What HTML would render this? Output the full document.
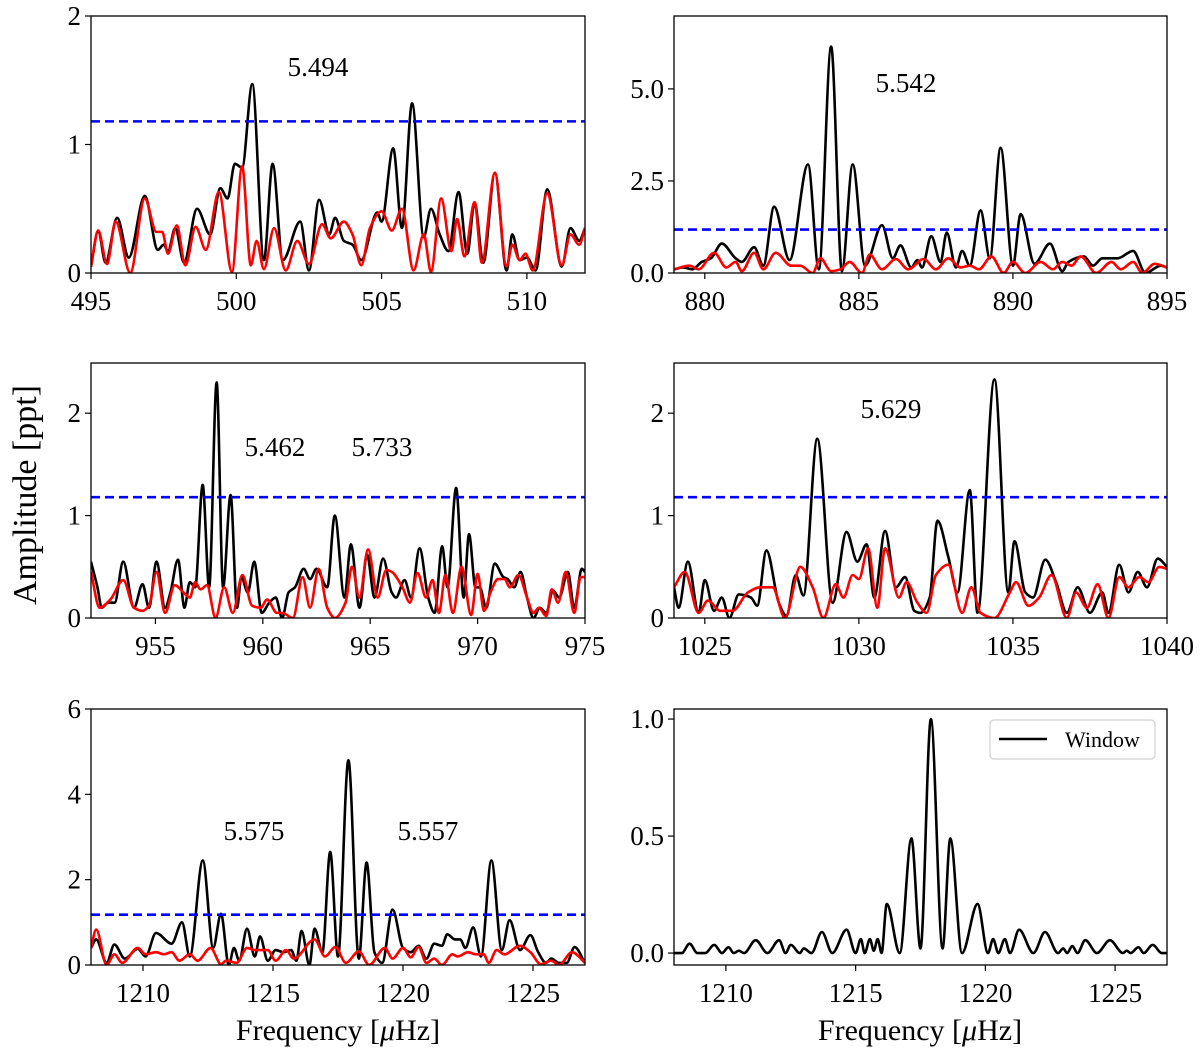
<!DOCTYPE html>
<html><head><meta charset="utf-8">
<style>
html,body{margin:0;padding:0;background:#fff;}
svg{display:block;}
text{font-family:"Liberation Serif","DejaVu Serif",serif;fill:#000;}
</style></head>
<body>
<svg id="fig" width="1200" height="1056" viewBox="0 0 1200 1056" xmlns="http://www.w3.org/2000/svg">
<text x="0" y="0" font-size="34" text-anchor="middle" transform="translate(36,495) rotate(-90)">Amplitude [ppt]</text>
<text x="338" y="1040" font-size="30" text-anchor="middle">Frequency [<tspan font-style="italic">μ</tspan>Hz]</text>
<text x="920" y="1040" font-size="30" text-anchor="middle">Frequency [<tspan font-style="italic">μ</tspan>Hz]</text>
</svg>
<script>
// ---------- data ----------
const threshold = 1.18;
const p1XTicks = [495,500,505,510];
const p1YTicks = [0,1,2];
const p1Black = [[495,0.05],[495.25,0.33],[495.5,0.08],[495.9,0.43],[496.3,0.12],[496.85,0.6],[497.3,0.18],[497.5,0.22],[497.65,0.17],[497.9,0.35],[498.2,0.08],[498.65,0.5],[499.1,0.3],[499.45,0.66],[499.7,0.58],[499.95,0.85],[500.2,0.82],[500.55,1.47],[500.95,0.1],[501.25,0.85],[501.6,0.1],[502.2,0.4],[502.5,0.02],[502.85,0.57],[503.2,0.3],[503.4,0.43],[503.7,0.25],[504.0,0.22],[504.3,0.1],[504.85,0.47],[505.0,0.4],[505.4,0.97],[505.7,0.35],[506.05,1.32],[506.45,0.28],[506.7,0.5],[507.0,0.3],[507.3,0.17],[507.65,0.63],[507.95,0.15],[508.2,0.55],[508.5,0.08],[508.9,0.78],[509.3,0.02],[509.5,0.3],[509.75,0.1],[510.0,0.12],[510.3,0.02],[510.7,0.65],[511.2,0.05],[511.5,0.35],[511.8,0.25],[512,0.35]];
const p1Red = [[495,0.05],[495.25,0.33],[495.55,0.07],[495.85,0.4],[496.35,0.0],[496.85,0.58],[497.25,0.32],[497.45,0.32],[497.65,0.15],[497.95,0.37],[498.25,0.06],[498.6,0.36],[498.95,0.18],[499.4,0.63],[499.85,0.01],[500.2,0.83],[500.5,0.06],[500.7,0.25],[500.95,0.03],[501.3,0.35],[501.7,0.02],[502.1,0.25],[502.5,0.07],[502.95,0.38],[503.25,0.27],[503.7,0.4],[504.0,0.3],[504.3,0.06],[504.6,0.35],[505.0,0.48],[505.35,0.33],[505.7,0.5],[506.1,0.02],[506.45,0.3],[506.7,0.01],[507.05,0.58],[507.4,0.17],[507.6,0.42],[507.85,0.13],[508.2,0.55],[508.45,0.08],[508.9,0.78],[509.3,0.05],[509.5,0.22],[509.75,0.1],[509.95,0.15],[510.2,0.02],[510.7,0.62],[511.2,0.06],[511.5,0.3],[511.8,0.22],[512,0.35]];

const p2XTicks = [880,885,890,895];
const p2YTicks = [0,2.5,5];
const p2YLabels = ["0.0","2.5","5.0"];
const p2Black = [[879,0.1],[879.3,0.15],[879.6,0.1],[879.9,0.3],[880.2,0.4],[880.55,0.8],[881.0,0.4],[881.2,0.3],[881.6,0.7],[881.9,0.2],[882.25,1.8],[882.75,0.35],[883.35,2.95],[883.7,0.1],[884.1,6.15],[884.45,0.05],[884.8,2.95],[885.2,0.2],[885.75,1.3],[886.1,0.4],[886.35,0.75],[886.7,0.15],[886.9,0.35],[887.05,0.15],[887.35,1.0],[887.65,0.3],[887.85,1.1],[888.15,0.15],[888.35,0.6],[888.6,0.2],[888.95,1.7],[889.25,0.4],[889.6,3.4],[890.0,0.2],[890.25,1.6],[890.7,0.25],[891.2,0.8],[891.6,0.05],[891.8,0.3],[892.3,0.45],[892.6,0.2],[892.9,0.4],[893.4,0.4],[893.9,0.6],[894.3,0.0],[894.8,0.2],[895,0.15]];
const p2Red = [[879,0.1],[879.5,0.2],[879.8,0.1],[880.3,0.55],[880.7,0.15],[881.0,0.3],[881.2,0.05],[881.6,0.55],[881.9,0.1],[882.3,0.55],[882.8,0.2],[883.1,0.2],[883.5,0.0],[883.75,0.4],[884.1,0.05],[884.4,0.1],[884.7,0.3],[885.1,0.0],[885.35,0.5],[885.75,0.1],[886.2,0.38],[886.6,0.1],[887.1,0.38],[887.5,0.1],[887.9,0.4],[888.3,0.15],[888.6,0.2],[888.9,0.1],[889.3,0.45],[889.7,0.0],[890.0,0.3],[890.4,0.0],[890.9,0.3],[891.3,0.1],[891.6,0.3],[891.9,0.2],[892.2,0.45],[892.7,0.0],[893.2,0.3],[893.5,0.1],[893.9,0.3],[894.2,0.0],[894.6,0.25],[895,0.15]];

const p3XTicks = [955,960,965,970,975];
const p3YTicks = [0,1,2];
const p3Black = [[952,0.55],[952.3,0.3],[952.5,0.1],[952.8,0.15],[953.1,0.15],[953.5,0.55],[954.0,0.1],[954.4,0.33],[954.7,0.1],[955.05,0.55],[955.45,0.1],[955.7,0.25],[956.05,0.57],[956.35,0.1],[956.6,0.35],[956.85,0.3],[957.2,1.3],[957.5,0.3],[957.85,2.3],[958.15,0.3],[958.5,1.2],[958.8,0.1],[959.0,0.4],[959.3,0.25],[959.6,0.55],[959.95,0.05],[960.3,0.15],[960.6,0.2],[960.9,0.0],[961.2,0.25],[961.5,0.3],[961.9,0.48],[962.2,0.38],[962.5,0.48],[963.0,0.3],[963.35,1.0],[963.8,0.2],[964.1,0.72],[964.5,0.1],[964.85,0.62],[965.2,0.2],[965.6,0.58],[966.0,0.25],[966.2,0.2],[966.6,0.37],[966.9,0.2],[967.3,0.68],[967.7,0.2],[968.0,0.05],[968.35,0.7],[968.6,0.3],[969.0,1.27],[969.35,0.2],[969.6,0.82],[969.9,0.3],[970.1,0.3],[970.4,0.1],[970.8,0.53],[971.2,0.4],[971.4,0.38],[971.7,0.3],[972.0,0.45],[972.3,0.2],[972.6,0.0],[972.9,0.1],[973.2,0.05],[973.5,0.27],[973.8,0.2],[974.2,0.45],[974.5,0.1],[974.85,0.48],[975,0.45]];
const p3Red = [[952,0.45],[952.4,0.1],[952.9,0.18],[953.5,0.37],[954.0,0.1],[954.4,0.07],[954.7,0.12],[955.05,0.45],[955.45,0.05],[955.9,0.32],[956.3,0.25],[956.6,0.2],[956.85,0.35],[957.1,0.28],[957.4,0.32],[957.8,0.0],[958.2,0.3],[958.6,0.05],[959.05,0.42],[959.5,0.12],[959.9,0.1],[960.2,0.18],[960.65,0.05],[960.9,0.05],[961.4,0.0],[961.85,0.4],[962.2,0.1],[962.6,0.48],[963.0,0.1],[963.35,0.0],[963.85,0.15],[964.15,0.5],[964.5,0.2],[964.9,0.67],[965.35,0.2],[965.75,0.47],[966.0,0.45],[966.5,0.3],[966.85,0.15],[967.2,0.44],[967.6,0.2],[967.9,0.37],[968.2,0.05],[968.5,0.42],[968.85,0.05],[969.25,0.5],[969.7,0.03],[970.0,0.43],[970.3,0.07],[970.6,0.25],[970.95,0.38],[971.25,0.38],[971.5,0.3],[971.9,0.42],[972.3,0.2],[972.6,0.05],[972.85,0.1],[973.2,0.02],[973.45,0.28],[973.75,0.15],[974.1,0.45],[974.5,0.05],[974.8,0.4],[975,0.4]];

const p4XTicks = [1025,1030,1035,1040];
const p4YTicks = [0,1,2];
const p4Black = [[1024.0,0.3],[1024.15,0.1],[1024.45,0.55],[1024.8,0.05],[1025.0,0.37],[1025.3,0.07],[1025.55,0.2],[1025.8,0.0],[1026.1,0.23],[1026.5,0.2],[1026.7,0.12],[1027.0,0.66],[1027.4,0.15],[1027.65,0.02],[1027.95,0.42],[1028.2,0.22],[1028.65,1.75],[1029.15,0.15],[1029.6,0.84],[1029.95,0.55],[1030.25,0.72],[1030.5,0.2],[1030.85,0.85],[1031.2,0.3],[1031.5,0.4],[1031.8,0.07],[1032.0,0.05],[1032.3,0.2],[1032.55,0.95],[1032.9,0.6],[1033.2,0.25],[1033.6,1.25],[1033.85,0.05],[1034.4,2.33],[1034.85,0.25],[1035.05,0.75],[1035.4,0.25],[1035.65,0.2],[1036.05,0.57],[1036.4,0.35],[1036.75,0.05],[1037.1,0.3],[1037.5,0.05],[1037.9,0.25],[1038.1,0.05],[1038.45,0.52],[1038.75,0.25],[1039.05,0.45],[1039.35,0.3],[1039.7,0.58],[1040,0.5]];
const p4Red = [[1024.0,0.3],[1024.35,0.45],[1024.8,0.05],[1025.1,0.17],[1025.5,0.07],[1025.9,0.07],[1026.4,0.25],[1026.8,0.3],[1027.2,0.3],[1027.6,0.0],[1028.1,0.5],[1028.5,0.3],[1028.85,0.0],[1029.25,0.33],[1029.5,0.2],[1029.8,0.42],[1030.0,0.38],[1030.3,0.68],[1030.6,0.1],[1030.85,0.68],[1031.3,0.2],[1031.55,0.35],[1031.9,0.15],[1032.2,0.05],[1032.5,0.42],[1032.9,0.52],[1033.35,0.05],[1033.65,0.3],[1033.95,0.05],[1034.4,0.0],[1034.9,0.25],[1035.1,0.35],[1035.5,0.12],[1035.85,0.2],[1036.25,0.42],[1036.75,0.0],[1037.05,0.25],[1037.4,0.1],[1037.75,0.33],[1038.1,0.0],[1038.45,0.4],[1038.75,0.3],[1039.1,0.4],[1039.4,0.35],[1039.75,0.5],[1040,0.48]];

const p5XTicks = [1210,1215,1220,1225];
const p5YTicks = [0,2,4,6];
const p5Black = [[1208,0.4],[1208.2,0.6],[1208.6,0.05],[1208.9,0.48],[1209.3,0.15],[1209.8,0.38],[1210.1,0.2],[1210.5,0.75],[1211.1,0.5],[1211.5,1.0],[1211.8,0.2],[1212.3,2.45],[1212.7,0.4],[1213.0,1.2],[1213.3,0.0],[1213.5,0.4],[1213.7,0.1],[1214.0,0.85],[1214.3,0.2],[1214.5,0.67],[1214.8,0.1],[1215.1,0.35],[1215.4,0.3],[1215.7,0.35],[1215.9,0.1],[1216.1,0.8],[1216.4,0.0],[1216.6,0.85],[1216.9,0.3],[1217.2,2.65],[1217.5,0.2],[1217.9,4.8],[1218.3,0.15],[1218.6,2.4],[1218.9,0.3],[1219.2,0.05],[1219.6,1.3],[1220.0,0.4],[1220.3,0.3],[1220.6,0.45],[1220.9,0.15],[1221.2,0.5],[1221.5,0.45],[1221.7,0.72],[1222.0,0.6],[1222.2,0.6],[1222.4,0.4],[1222.7,0.88],[1223.0,0.2],[1223.4,2.45],[1223.8,0.35],[1224.1,1.05],[1224.5,0.35],[1224.9,0.7],[1225.2,0.3],[1225.5,0.05],[1225.7,0.15],[1226.0,0.05],[1226.3,0.05],[1226.6,0.42],[1227,0.05]];
const p5Red = [[1208,0.4],[1208.2,0.83],[1208.6,0.0],[1208.9,0.25],[1209.2,0.05],[1209.8,0.4],[1210.1,0.25],[1210.5,0.3],[1210.8,0.25],[1211.1,0.3],[1211.4,0.1],[1211.8,0.25],[1212.1,0.1],[1212.6,0.4],[1213.0,0.02],[1213.2,0.1],[1213.6,0.05],[1214.0,0.4],[1214.3,0.35],[1214.8,0.35],[1215.1,0.1],[1215.5,0.35],[1215.8,0.15],[1216.6,0.6],[1217.0,0.2],[1217.4,0.42],[1217.8,0.05],[1218.3,0.32],[1218.7,0.0],[1219.3,0.4],[1219.6,0.15],[1220.0,0.4],[1220.3,0.18],[1220.6,0.42],[1220.9,0.05],[1221.2,0.15],[1221.5,0.0],[1221.9,0.25],[1222.1,0.2],[1222.5,0.3],[1222.8,0.25],[1223.1,0.25],[1223.3,0.05],[1223.6,0.35],[1223.9,0.25],[1224.5,0.45],[1224.9,0.3],[1225.3,0.02],[1225.7,0.1],[1226.0,0.0],[1226.5,0.3],[1227,0.05]];

const p6XTicks = [1210,1215,1220,1225];
const p6YTicks = [0,0.5,1];
const p6YLabels = ["0.0","0.5","1.0"];
const p6Window = [[1208.0,0.0],[1208.3,0.0],[1208.6,0.04],[1208.9,0.0],[1209.2,0.0],[1209.55,0.035],[1209.85,0.0],[1210.1,0.025],[1210.3,0.0],[1210.5,0.01],[1210.7,0.0],[1211.15,0.055],[1211.6,0.0],[1212.05,0.055],[1212.3,0.0],[1212.5,0.035],[1212.85,0.0],[1213.0,0.02],[1213.3,0.0],[1213.7,0.09],[1214.1,0.0],[1214.65,0.1],[1215.0,0.0],[1215.2,0.06],[1215.35,0.0],[1215.55,0.06],[1215.7,0.01],[1215.85,0.06],[1216.0,0.0],[1216.2,0.21],[1216.7,0.0],[1217.15,0.49],[1217.5,0.02],[1217.9,1.0],[1218.35,0.02],[1218.65,0.49],[1219.1,0.0],[1219.7,0.21],[1220.1,0.0],[1220.3,0.06],[1220.5,0.0],[1220.75,0.06],[1220.95,0.0],[1221.3,0.1],[1221.85,0.0],[1222.3,0.09],[1222.8,0.0],[1223.0,0.02],[1223.15,0.0],[1223.35,0.03],[1223.55,0.0],[1223.85,0.055],[1224.3,0.0],[1224.8,0.055],[1225.3,0.0],[1225.45,0.01],[1225.6,0.0],[1225.9,0.025],[1226.1,0.0],[1226.45,0.035],[1226.8,0.0],[1227,0.0]];

// ---------- rendering ----------
const NS = "http://www.w3.org/2000/svg";
const svg = document.getElementById('fig');
function mk(tag, attrs, parent){
  const e = document.createElementNS(NS, tag);
  for (const k in attrs) e.setAttribute(k, attrs[k]);
  (parent||svg).appendChild(e);
  return e;
}
function monotonePath(pts){
  const n = pts.length; if(n<2) return "";
  const dx=[],m=[],t=new Array(n);
  for(let i=0;i<n-1;i++){dx[i]=pts[i+1][0]-pts[i][0]; m[i]=(pts[i+1][1]-pts[i][1])/dx[i];}
  t[0]=m[0]; t[n-1]=m[n-2];
  for(let i=1;i<n-1;i++){
    if(m[i-1]*m[i]<=0) t[i]=0;
    else { const w1=2*dx[i]+dx[i-1], w2=dx[i]+2*dx[i-1]; t[i]=(w1+w2)/(w1/m[i-1]+w2/m[i]); }
  }
  let d="M"+pts[0][0].toFixed(2)+","+pts[0][1].toFixed(2);
  for(let i=0;i<n-1;i++){
    const h=dx[i]/3;
    d+="C"+(pts[i][0]+h).toFixed(2)+","+(pts[i][1]+t[i]*h).toFixed(2)+" "+(pts[i+1][0]-h).toFixed(2)+","+(pts[i+1][1]-t[i+1]*h).toFixed(2)+" "+pts[i+1][0].toFixed(2)+","+pts[i+1][1].toFixed(2);
  }
  return d;
}
let clipId=0;
function panel(cfg){
  const g = mk('g',{});
  
  
  const xs = v => cfg.x0 + (v-cfg.xmin)/(cfg.xmax-cfg.xmin)*(cfg.x1-cfg.x0);
  const ys = v => cfg.y1 - (v-cfg.ymin)/(cfg.ymax-cfg.ymin)*(cfg.y1-cfg.y0);
  const id = 'clip'+(clipId++);
  const cp = mk('clipPath',{id:id},g);
  mk('rect',{x:cfg.x0,y:cfg.y0,width:cfg.x1-cfg.x0,height:cfg.y1-cfg.y0},cp);
  const plot = mk('g',{'clip-path':'url(#'+id+')'},g);
  (cfg.series||[]).forEach(s=>{
    const p = mk('path',{d:monotonePath(s.data.map(d=>[xs(d[0]),ys(d[1])])),fill:'none',stroke:s.color,'stroke-width':2.6,'stroke-linejoin':'round'},plot);
    
    
  });
  if(cfg.threshold!==undefined){
    const l = mk('line',{x1:cfg.x0,x2:cfg.x1,y1:ys(cfg.threshold),y2:ys(cfg.threshold),stroke:'#0000ff','stroke-width':2.6,'stroke-dasharray':'9,5'},plot);
    
    
  }
  const frame = mk('rect',{x:cfg.x0,y:cfg.y0,width:cfg.x1-cfg.x0,height:cfg.y1-cfg.y0,fill:'none',stroke:'#000','stroke-width':1.3},g);
  
  
  cfg.xticks.forEach(v=>{
    const x = xs(v);
    mk('line',{x1:x,x2:x,y1:cfg.y1,y2:cfg.y1+6,stroke:'#000','stroke-width':1.2},g);
    const t = mk('text',{x:x,y:cfg.y1+37,'font-size':27,'text-anchor':'middle'},g);
    t.textContent = String(v);
    
    
  });
  cfg.yticks.forEach((v,i)=>{
    const y = ys(v);
    mk('line',{x1:cfg.x0-6,x2:cfg.x0,y1:y,y2:y,stroke:'#000','stroke-width':1.2},g);
    const t = mk('text',{x:cfg.x0-10,y:y+9,'font-size':27,'text-anchor':'end'},g);
    t.textContent = cfg.ylabels ? cfg.ylabels[i] : String(v);
    
    
  });
  (cfg.notes||[]).forEach(n=>{
    const t = mk('text',{x:n[0],y:n[1],'font-size':27,'text-anchor':'middle'},g);
    t.textContent = n[2];
    
    
  });
  return g;
}
panel({name:'panel-495-512',x0:91,x1:585,y0:16,y1:273,xmin:495,xmax:512,ymin:0,ymax:2,xticks:p1XTicks,yticks:p1YTicks,threshold:threshold,
  series:[{name:'data-spectrum',data:p1Black,color:'#000'},{name:'prewhitened-spectrum',data:p1Red,color:'#ff0000'}],notes:[[318,76,'5.494']]});
panel({name:'panel-879-895',x0:674,x1:1167,y0:16,y1:273,xmin:879,xmax:895,ymin:0,ymax:6.98,xticks:p2XTicks,yticks:p2YTicks,ylabels:p2YLabels,threshold:threshold,
  series:[{name:'data-spectrum',data:p2Black,color:'#000'},{name:'prewhitened-spectrum',data:p2Red,color:'#ff0000'}],notes:[[906,92,'5.542']]});
panel({name:'panel-952-975',x0:91,x1:585,y0:363,y1:618,xmin:952,xmax:975,ymin:0,ymax:2.49,xticks:p3XTicks,yticks:p3YTicks,threshold:threshold,
  series:[{name:'data-spectrum',data:p3Black,color:'#000'},{name:'prewhitened-spectrum',data:p3Red,color:'#ff0000'}],notes:[[275,456,'5.462'],[382,456,'5.733']]});
panel({name:'panel-1024-1040',x0:674,x1:1167,y0:363,y1:618,xmin:1024,xmax:1040,ymin:0,ymax:2.49,xticks:p4XTicks,yticks:p4YTicks,threshold:threshold,
  series:[{name:'data-spectrum',data:p4Black,color:'#000'},{name:'prewhitened-spectrum',data:p4Red,color:'#ff0000'}],notes:[[891,418,'5.629']]});
panel({name:'panel-1208-1227',x0:91,x1:585,y0:709,y1:965,xmin:1208,xmax:1227,ymin:0,ymax:6,xticks:p5XTicks,yticks:p5YTicks,threshold:threshold,
  series:[{name:'data-spectrum',data:p5Black,color:'#000'},{name:'prewhitened-spectrum',data:p5Red,color:'#ff0000'}],notes:[[254,840,'5.575'],[428,840,'5.557']]});
panel({name:'panel-window',x0:674,x1:1167,y0:709,y1:965,xmin:1208,xmax:1227,ymin:-0.051,ymax:1.043,xticks:p6XTicks,yticks:p6YTicks,ylabels:p6YLabels,
  series:[{name:'window-function',data:p6Window,color:'#000'}]});
// legend
const lg = mk('g',{});


mk('rect',{x:990,y:720,width:165,height:39,rx:4,fill:'#fff',stroke:'#d0d0d0','stroke-width':1.2},lg);
mk('line',{x1:999,x2:1047,y1:739,y2:739,stroke:'#000','stroke-width':2.6},lg);
const lt = mk('text',{x:1065,y:747,'font-size':22},lg);
lt.textContent = 'Window';


</script>
</body></html>
